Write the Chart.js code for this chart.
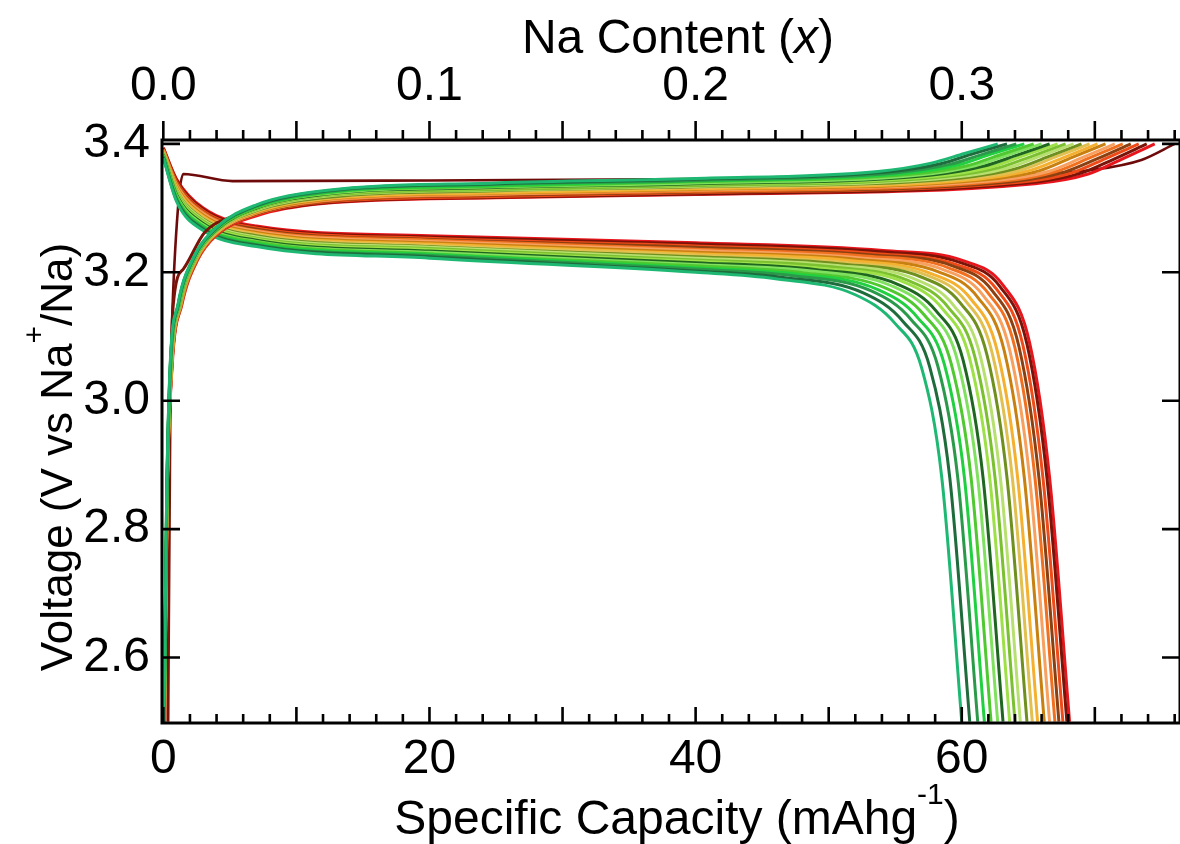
<!DOCTYPE html>
<html lang="en">
<head>
<meta charset="UTF-8">
<title>Na Content vs Voltage</title>
<script src="https://cdn.jsdelivr.net/npm/chart.js"></script>
<style>
  html, body { margin: 0; padding: 0; background: #fff; }
  #wrap { width: 1180px; height: 844px; position: relative; }
</style>
</head>
<body>
<div id="wrap"><canvas id="cv"></canvas></div>
<script>
// ---- data ----
// capacity in mAh/g, voltage in V vs Na+/Na
const voltTicks = [2.6, 2.8, 3.0, 3.2, 3.4];

// first cycle (maroon), charge only
const firstCharge = [[0.05,2.5],[0.4,2.9],[0.65,3.12],[1.1,3.3],[1.5,3.353],[5.2,3.342],[20,3.343],[40,3.345],[55,3.348],[65,3.352],[70,3.36],[73.5,3.375],[76,3.4]];

// cycles after the first one, early (red) to late (green)
const cycleColors = [
  '#e8161c', '#7a1408', '#f04a18', '#8a4010', '#f07020',
  '#f7a060', '#c88010', '#f5b030', '#e0c050', '#6f8f1f',
  '#b8e070', '#7ac030', '#9ee048', '#1f6620', '#80e060',
  '#50c830', '#20d040', '#2a9a4a', '#1e6b3c', '#1fb873'
];

const discharge = [
  [[0,3.394],[1,3.345],[3,3.300],[7,3.272],[20,3.257],[40,3.246],[54.1,3.234],[60.1,3.218],[63.1,3.180],[65.1,3.090],[66.6,2.88],[68.1,2.5]],
  [[0,3.393],[1,3.343],[3,3.298],[7,3.270],[20,3.255],[40,3.244],[53.9,3.232],[59.9,3.215],[62.9,3.177],[64.9,3.088],[66.4,2.88],[67.9,2.5]],
  [[0,3.392],[1,3.341],[3,3.296],[7,3.269],[20,3.253],[40,3.241],[53.6,3.229],[59.6,3.212],[62.6,3.174],[64.6,3.086],[66.1,2.88],[67.6,2.5]],
  [[0,3.391],[1,3.339],[3,3.294],[7,3.267],[20,3.251],[40,3.239],[53.3,3.227],[59.3,3.210],[62.3,3.171],[64.3,3.084],[65.8,2.88],[67.3,2.5]],
  [[0,3.391],[1,3.338],[3,3.293],[7,3.265],[20,3.250],[40,3.236],[53.0,3.225],[59.0,3.207],[62.0,3.167],[64.0,3.082],[65.5,2.88],[67.0,2.5]],
  [[0,3.390],[1,3.336],[3,3.291],[7,3.264],[20,3.248],[40,3.234],[52.6,3.222],[58.6,3.204],[61.6,3.164],[63.6,3.079],[65.1,2.88],[66.6,2.5]],
  [[0,3.389],[1,3.334],[3,3.289],[7,3.262],[20,3.246],[40,3.231],[52.2,3.220],[58.2,3.201],[61.2,3.161],[63.2,3.077],[64.7,2.88],[66.2,2.5]],
  [[0,3.388],[1,3.332],[3,3.287],[7,3.260],[20,3.244],[40,3.229],[51.7,3.218],[57.7,3.198],[60.7,3.158],[62.7,3.075],[64.2,2.88],[65.7,2.5]],
  [[0,3.387],[1,3.330],[3,3.285],[7,3.259],[20,3.242],[40,3.227],[51.3,3.215],[57.3,3.196],[60.3,3.155],[62.3,3.073],[63.8,2.88],[65.3,2.5]],
  [[0,3.386],[1,3.328],[3,3.283],[7,3.257],[20,3.240],[40,3.224],[50.9,3.213],[56.9,3.193],[59.9,3.152],[61.9,3.071],[63.4,2.88],[64.9,2.5]],
  [[0,3.386],[1,3.327],[3,3.282],[7,3.255],[20,3.239],[40,3.222],[50.4,3.211],[56.4,3.190],[59.4,3.148],[61.4,3.069],[62.9,2.88],[64.4,2.5]],
  [[0,3.385],[1,3.325],[3,3.280],[7,3.253],[20,3.237],[40,3.219],[50.0,3.209],[56.0,3.187],[59.0,3.145],[61.0,3.067],[62.5,2.88],[64.0,2.5]],
  [[0,3.384],[1,3.323],[3,3.278],[7,3.252],[20,3.235],[40,3.217],[49.6,3.206],[55.6,3.185],[58.6,3.142],[60.6,3.065],[62.1,2.88],[63.6,2.5]],
  [[0,3.383],[1,3.321],[3,3.276],[7,3.250],[20,3.233],[40,3.215],[49.1,3.204],[55.1,3.182],[58.1,3.139],[60.1,3.063],[61.6,2.88],[63.1,2.5]],
  [[0,3.382],[1,3.319],[3,3.274],[7,3.248],[20,3.231],[40,3.212],[48.7,3.202],[54.7,3.179],[57.7,3.136],[59.7,3.061],[61.2,2.88],[62.7,2.5]],
  [[0,3.381],[1,3.317],[3,3.272],[7,3.247],[20,3.229],[40,3.210],[48.2,3.199],[54.2,3.176],[57.2,3.133],[59.2,3.058],[60.7,2.88],[62.2,2.5]],
  [[0,3.381],[1,3.316],[3,3.271],[7,3.245],[20,3.228],[40,3.207],[47.7,3.197],[53.7,3.173],[56.7,3.129],[58.7,3.056],[60.2,2.88],[61.7,2.5]],
  [[0,3.380],[1,3.314],[3,3.269],[7,3.243],[20,3.226],[40,3.205],[47.2,3.195],[53.2,3.171],[56.2,3.126],[58.2,3.054],[59.7,2.88],[61.2,2.5]],
  [[0,3.379],[1,3.312],[3,3.267],[7,3.242],[20,3.224],[40,3.202],[46.6,3.192],[52.6,3.168],[55.6,3.123],[57.6,3.052],[59.1,2.88],[60.6,2.5]],
  [[0,3.378],[1,3.310],[3,3.265],[7,3.240],[20,3.222],[40,3.200],[46.0,3.190],[52.0,3.165],[55.0,3.120],[57.0,3.050],[58.5,2.88],[60.0,2.5]]
];

const charge = [
  [[0.10,2.5],[0.30,2.85],[0.65,3.05],[1.40,3.15],[2.60,3.22],[4,3.258],[7,3.288],[12,3.307],[25,3.316],[40,3.321],[65.5,3.338],[69.5,3.353],[72.0,3.376],[74.5,3.4]],
  [[0.35,2.5],[0.50,2.95],[0.75,3.15],[1.50,3.205],[3.1,3.262],[5,3.285],[7,3.293],[12,3.308],[25,3.317],[40,3.322],[64.9,3.339],[68.9,3.354],[71.4,3.376],[73.9,3.4]],
  [[0.10,2.5],[0.29,2.85],[0.63,3.05],[1.37,3.15],[2.56,3.22],[4,3.259],[7,3.290],[12,3.309],[25,3.318],[40,3.324],[64.3,3.340],[68.3,3.355],[70.8,3.377],[73.3,3.4]],
  [[0.09,2.5],[0.29,2.85],[0.63,3.05],[1.35,3.15],[2.54,3.22],[4,3.260],[7,3.291],[12,3.310],[25,3.320],[40,3.325],[63.7,3.341],[67.7,3.356],[70.2,3.377],[72.7,3.4]],
  [[0.09,2.5],[0.29,2.85],[0.62,3.05],[1.34,3.15],[2.52,3.22],[4,3.261],[7,3.292],[12,3.311],[25,3.321],[40,3.326],[63.1,3.342],[67.1,3.357],[69.6,3.378],[72.1,3.4]],
  [[0.09,2.5],[0.29,2.85],[0.61,3.05],[1.32,3.15],[2.49,3.22],[4,3.261],[7,3.292],[12,3.312],[25,3.322],[40,3.328],[62.5,3.343],[66.5,3.357],[69.0,3.378],[71.5,3.4]],
  [[0.08,2.5],[0.28,2.85],[0.60,3.05],[1.31,3.15],[2.47,3.22],[4,3.262],[7,3.293],[12,3.313],[25,3.323],[40,3.329],[61.8,3.344],[65.8,3.358],[68.3,3.379],[70.8,3.4]],
  [[0.08,2.5],[0.28,2.85],[0.59,3.05],[1.29,3.15],[2.45,3.22],[4,3.262],[7,3.294],[12,3.314],[25,3.324],[40,3.330],[61.2,3.345],[65.2,3.359],[67.7,3.379],[70.2,3.4]],
  [[0.08,2.5],[0.28,2.85],[0.59,3.05],[1.27,3.15],[2.43,3.22],[4,3.263],[7,3.295],[12,3.315],[25,3.326],[40,3.332],[60.6,3.346],[64.6,3.360],[67.1,3.380],[69.6,3.4]],
  [[0.08,2.5],[0.28,2.85],[0.58,3.05],[1.26,3.15],[2.41,3.22],[4,3.264],[7,3.296],[12,3.316],[25,3.327],[40,3.333],[60.0,3.347],[64.0,3.361],[66.5,3.380],[69.0,3.4]],
  [[0.07,2.5],[0.27,2.85],[0.57,3.05],[1.24,3.15],[2.39,3.22],[4,3.264],[7,3.297],[12,3.318],[25,3.328],[40,3.334],[59.4,3.348],[63.4,3.362],[65.9,3.381],[68.4,3.4]],
  [[0.07,2.5],[0.27,2.85],[0.56,3.05],[1.23,3.15],[2.37,3.22],[4,3.265],[7,3.298],[12,3.319],[25,3.329],[40,3.335],[58.8,3.349],[62.8,3.363],[65.3,3.381],[67.8,3.4]],
  [[0.07,2.5],[0.27,2.85],[0.56,3.05],[1.21,3.15],[2.35,3.22],[4,3.266],[7,3.299],[12,3.320],[25,3.331],[40,3.337],[58.2,3.350],[62.2,3.364],[64.7,3.382],[67.2,3.4]],
  [[0.07,2.5],[0.27,2.85],[0.55,3.05],[1.19,3.15],[2.33,3.22],[4,3.266],[7,3.300],[12,3.321],[25,3.332],[40,3.338],[57.6,3.351],[61.6,3.365],[64.1,3.382],[66.6,3.4]],
  [[0.06,2.5],[0.26,2.85],[0.54,3.05],[1.18,3.15],[2.31,3.22],[4,3.267],[7,3.301],[12,3.322],[25,3.333],[40,3.339],[57.0,3.352],[61.0,3.366],[63.5,3.383],[66.0,3.4]],
  [[0.06,2.5],[0.26,2.85],[0.53,3.05],[1.16,3.15],[2.28,3.22],[4,3.267],[7,3.301],[12,3.323],[25,3.334],[40,3.341],[56.4,3.353],[60.4,3.366],[62.9,3.383],[65.4,3.4]],
  [[0.06,2.5],[0.26,2.85],[0.52,3.05],[1.15,3.15],[2.26,3.22],[4,3.268],[7,3.302],[12,3.324],[25,3.335],[40,3.342],[55.7,3.354],[59.7,3.367],[62.2,3.384],[64.7,3.4]],
  [[0.06,2.5],[0.26,2.85],[0.52,3.05],[1.13,3.15],[2.24,3.22],[4,3.269],[7,3.303],[12,3.325],[25,3.337],[40,3.343],[55.1,3.355],[59.1,3.368],[61.6,3.384],[64.1,3.4]],
  [[0.05,2.5],[0.25,2.85],[0.51,3.05],[1.12,3.15],[2.22,3.22],[4,3.269],[7,3.304],[12,3.326],[25,3.338],[40,3.345],[54.4,3.356],[58.4,3.369],[60.9,3.385],[63.4,3.4]],
  [[0.05,2.5],[0.25,2.85],[0.50,3.05],[1.10,3.15],[2.20,3.22],[4,3.270],[7,3.305],[12,3.327],[25,3.339],[40,3.346],[53.7,3.357],[57.7,3.370],[60.2,3.385],[62.7,3.4]]
];

// capacity -> Na content (20 mAh/g = 0.1 Na)
const naPerCapacity = 0.005;

// ---- chart ----
const FONT = "'Liberation Sans', Arial, sans-serif";
Chart.defaults.font.family = FONT;
Chart.defaults.color = '#000';

function line(points, color, width) {
  return {
    data: points.map(p => ({x: p[0], y: p[1]})),
    borderColor: color,
    borderWidth: width,
    pointRadius: 0,
    fill: false,
    cubicInterpolationMode: 'monotone'
  };
}

// dataset 0 is drawn on top: late (green) charge curves first
const datasets = [];
for (let k = charge.length - 1; k >= 0; k--) datasets.push(line(charge[k], cycleColors[k], 3));
for (let k = discharge.length - 1; k >= 0; k--) datasets.push(line(discharge[k], cycleColors[k], 3));
datasets.push(line(firstCharge, '#6e0a0a', 2.6));

// frame + inward/outward tick marks like the original
const frame = {
  id: 'frame',
  afterDatasetsDraw(chart) {
    const {ctx, chartArea: a, scales} = chart;
    ctx.save();
    ctx.strokeStyle = '#000';
    ctx.lineWidth = 3;
    ctx.strokeRect(a.left, a.top, a.right - a.left, a.bottom - a.top);
    ctx.lineWidth = 2.6;
    ctx.beginPath();
    for (let v = 0; v <= 76; v += 2) {           // bottom, pointing in
      const px = scales.x.getPixelForValue(v);
      const len = v % 10 === 0 ? 16 : 9;
      ctx.moveTo(px, a.bottom); ctx.lineTo(px, a.bottom - len);
    }
    for (let i = 0; i <= 38; i++) {              // top, pointing out
      const px = scales.x2.getPixelForValue(i / 100);
      const len = i % 5 === 0 ? 19 : 10;
      ctx.moveTo(px, a.top); ctx.lineTo(px, a.top - len);
    }
    for (const v of voltTicks) {                 // left and right, pointing in
      const py = scales.y.getPixelForValue(v);
      ctx.moveTo(a.left, py); ctx.lineTo(a.left + 18, py);
      ctx.moveTo(a.right, py); ctx.lineTo(a.right - 18, py);
    }
    ctx.stroke();
    ctx.restore();
  }
};

// axis titles with italic / superscript pieces
function rich(ctx, parts, cx, baseline) {
  let w = 0;
  for (const p of parts) { ctx.font = p.font; w += ctx.measureText(p.t).width; }
  let x = cx - w / 2;
  for (const p of parts) {
    ctx.font = p.font;
    ctx.fillText(p.t, x, baseline + (p.dy || 0));
    x += ctx.measureText(p.t).width;
  }
}

const titles = {
  id: 'titles',
  afterDraw(chart) {
    const ctx = chart.ctx;
    const big = '48px ' + FONT, sup = '30px ' + FONT;
    ctx.save();
    ctx.fillStyle = '#000';
    ctx.textBaseline = 'alphabetic';
    ctx.textAlign = 'left';
    rich(ctx, [{t: 'Na Content (', font: big}, {t: 'x', font: 'italic ' + big}, {t: ')', font: big}], 678, 53);
    rich(ctx, [{t: 'Specific Capacity (mAhg', font: big}, {t: '-1', font: sup, dy: -30}, {t: ')', font: big}], 677, 834);
    ctx.translate(72, 457);
    ctx.rotate(-Math.PI / 2);
    rich(ctx, [{t: 'Voltage (V vs Na', font: '44px ' + FONT}, {t: '+', font: sup, dy: -28}, {t: '/Na)', font: '44px ' + FONT}], 0, 0);
    ctx.restore();
  }
};

new Chart(document.getElementById('cv'), {
  type: 'line',
  data: {datasets: datasets},
  options: {
    responsive: true,
    maintainAspectRatio: false,
    animation: false,
    layout: {padding: 0},
    plugins: {legend: {display: false}, tooltip: {enabled: false}},
    scales: {
      x: {
        type: 'linear', position: 'bottom', min: -0.1, max: 76.4,
        grid: {display: false, drawTicks: false}, border: {display: false},
        ticks: {stepSize: 20, includeBounds: false, padding: 8, font: {size: 48},
                maxRotation: 0, callback: v => v.toFixed(0)},
        afterFit: s => { s.height = 121; }
      },
      x2: {
        type: 'linear', position: 'top',
        min: -0.1 * naPerCapacity, max: 76.4 * naPerCapacity,
        grid: {display: false, drawTicks: false}, border: {display: false},
        ticks: {stepSize: 0.1, includeBounds: false, padding: 24, font: {size: 48},
                maxRotation: 0, callback: v => v.toFixed(1)},
        afterFit: s => { s.height = 140; }
      },
      y: {
        type: 'linear', position: 'left', min: 2.498, max: 3.406,
        grid: {display: false, drawTicks: false}, border: {display: false},
        ticks: {stepSize: 0.2, includeBounds: false, padding: 12, font: {size: 48},
                callback: v => v.toFixed(1)},
        afterFit: s => { s.width = 162; }
      }
    }
  },
  plugins: [frame, titles]
});
</script>
</body>
</html>
